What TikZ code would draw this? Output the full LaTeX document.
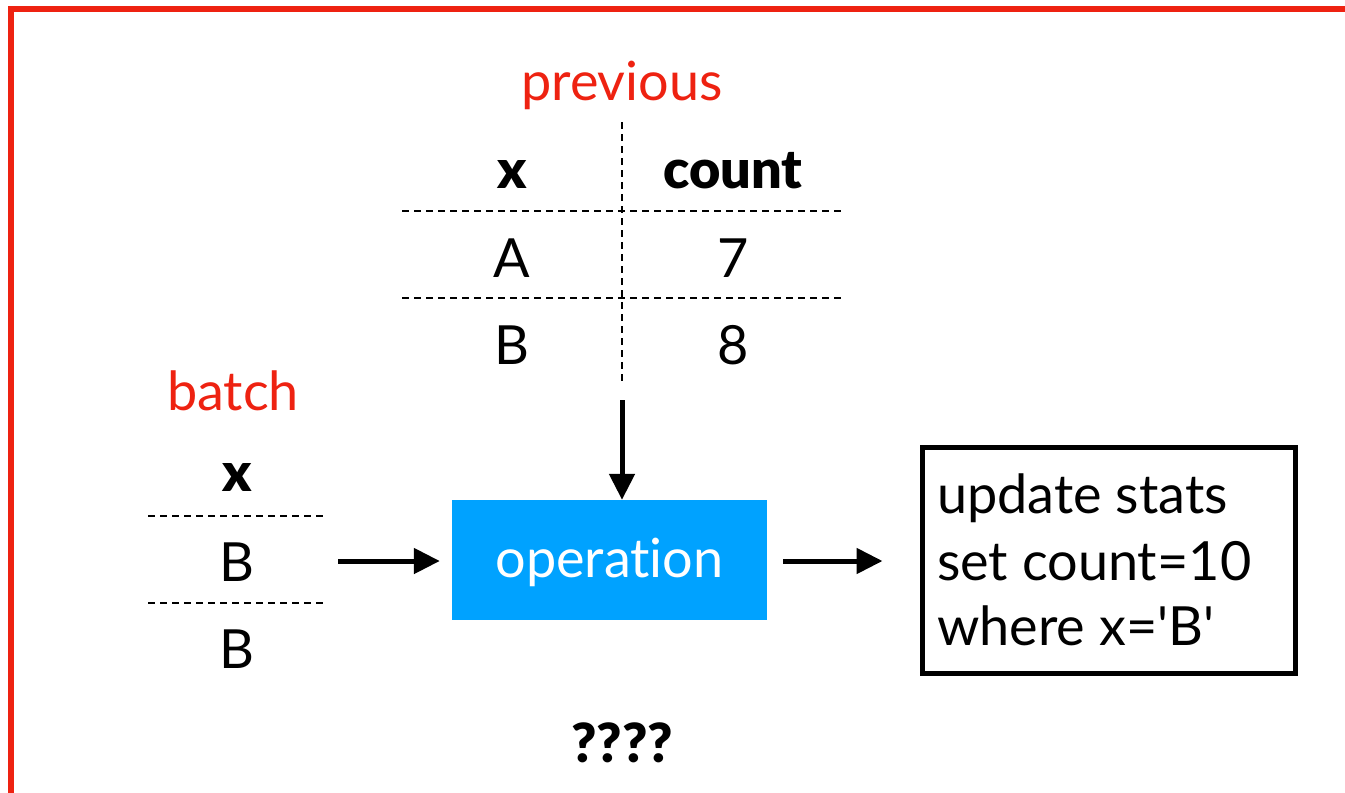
\documentclass[tikz,border=0pt]{standalone}
\usepackage{fontspec}
\setmainfont{Lato}[Ligatures={NoCommon,TeXOff}]
\newfontfamily\heavy{Lato}[UprightFont={* Black},Ligatures={NoCommon,TeXOff}]
\usetikzlibrary{arrows.meta}
\definecolor{myred}{RGB}{238,34,17}
\definecolor{myblue}{RGB}{0,162,255}
\begin{document}
\begin{tikzpicture}[x=1pt,y=-1pt,
  txt/.style={inner sep=0pt,anchor=base,font=\fontsize{54}{64}\selectfont},
  btxt/.style={txt,font=\fontsize{54}{64}\selectfont\heavy},
  rtxt/.style={txt,text=myred},
  dsh/.style={line width=2.8pt,dash pattern=on 7pt off 5pt},
  arr/.style={line width=5pt,-{Triangle[length=26pt,width=25pt]}}]
\useasboundingbox (0,0) rectangle (1345,793);
% red frame
\draw[myred,line width=6pt] (10.5,800) -- (10.5,8.5) -- (1350,8.5);
% previous table
\node[rtxt] (prevlbl) at (622,100) {previous};
\draw[dsh] (622,122) -- (622,385);
\draw[dsh] (402,211) -- (843,211);
\draw[dsh] (402,298) -- (843,298);
\node[btxt] (px) at (512,188) {x};
\node[btxt] (pc) at (733,188) {count};
\node[txt] (pa) at (512,277) {A};
\node[txt] (p7) at (733,277) {7};
\node[txt] (pb) at (512,364) {B};
\node[txt] (p8) at (733,364) {8};
% batch table
\node[rtxt] (batchlbl) at (233,410) {batch};
\node[btxt] (bx) at (237,491) {x};
\draw[dsh] (148,516) -- (326,516);
\draw[dsh] (148,603) -- (326,603);
\node[txt] (b1) at (237,581) {B};
\node[txt] (b2) at (237,668) {B};
% operation
\node[fill=myblue,minimum width=315pt,minimum height=120pt,inner sep=0pt] (op) at (609.5,560) {};
\node[txt,text=white] (oplbl) at (609.5,577) {operation};
% result box
\node[draw,line width=5pt,minimum width=373pt,minimum height=226pt,inner sep=0pt] (res) at (1108.5,560) {};
\node[txt,anchor=base west] (r1) at (937,513) {update stats};
\node[txt,anchor=base west] (r2) at (937,580) {set count=10};
\node[txt,anchor=base west] (r3) at (937,645) {where x='B'};
% arrows
\coordinate (vtop) at (622,400);
\coordinate (lstart) at (338,561);
\draw[arr] (vtop) -- (vtop |- op.north);
\draw[arr,shorten >=12pt] (lstart) -- (lstart -| op.west);
\draw[arr,shorten <=16pt,shorten >=37pt] (op.east |- lstart) -- (res.west |- lstart);
% question marks
\node[btxt] (q) at (622,762) {????};
\end{tikzpicture}
\end{document}
